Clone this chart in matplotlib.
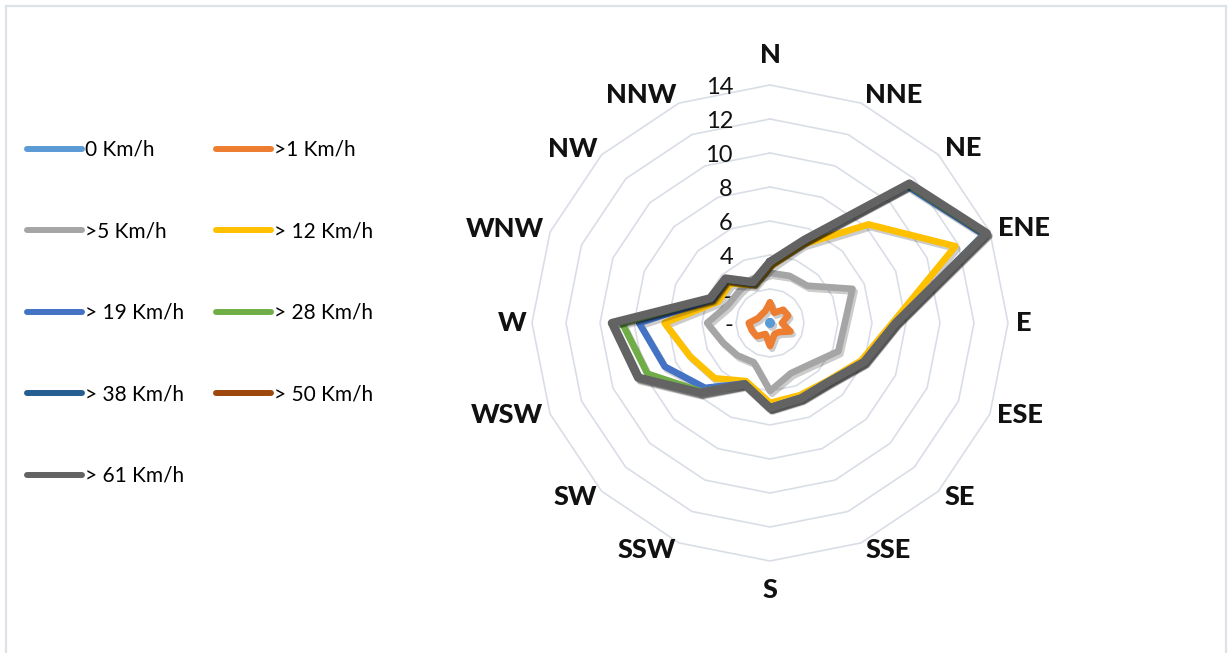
import numpy as np
import matplotlib.pyplot as plt
import matplotlib.transforms as mtransforms
from matplotlib import patheffects as pe
from matplotlib.lines import Line2D
from matplotlib.patches import Rectangle

plt.rcParams['font.family'] = ['Lato', 'DejaVu Sans']

W, H = 1228, 653

# wind directions, clockwise from north
directions = ['N', 'NNE', 'NE', 'ENE', 'E', 'ESE', 'SE', 'SSE',
              'S', 'SSW', 'SW', 'WSW', 'W', 'WNW', 'NW', 'NNW']

# cumulative frequency (%) per speed class
speed_0 = [0.1, 0.1, 0.1, 0.1, 0.1, 0.1, 0.1, 0.1,
           0.1, 0.1, 0.1, 0.1, 0.1, 0.1, 0.1, 0.1]
speed_1 = [1.2, 0.65, 1.1, 1.15, 0.7, 1.3, 0.75, 0.7,
           1.35, 0.7, 1.1, 1.15, 1.25, 0.75, 0.7, 0.75]
speed_5 = [2.95, 3.0, 3.1, 5.25, 4.4, 4.35, 3.4, 3.2,
           4.0, 2.5, 2.7, 3.0, 3.7, 2.7, 2.6, 2.8]
speed_12 = [3.3, 5.0, 8.2, 11.8, 7.2, 5.8, 4.8, 4.6,
            4.7, 3.7, 4.6, 5.1, 6.2, 3.3, 3.3, 2.4]
speed_19 = [3.55, 5.2, 11.4, 13.6, 7.35, 5.95, 4.85, 4.75,
            4.95, 3.85, 5.4, 6.7, 7.7, 3.65, 3.6, 2.5]
speed_28 = [3.6, 5.25, 11.5, 13.7, 7.4, 6.0, 4.9, 4.8,
            5.0, 3.9, 5.7, 7.8, 8.7, 3.75, 3.65, 2.55]
speed_38 = [3.6, 5.3, 11.6, 13.8, 7.4, 6.0, 4.9, 4.8,
            5.0, 3.9, 5.8, 8.35, 9.25, 3.8, 3.7, 2.6]
speed_50 = [3.6, 5.3, 11.6, 13.8, 7.4, 6.0, 4.9, 4.8,
            5.0, 3.9, 5.8, 8.4, 9.3, 3.8, 3.7, 2.6]
speed_61 = [3.6, 5.3, 11.6, 13.8, 7.4, 6.0, 4.9, 4.8,
            5.0, 3.9, 5.8, 8.4, 9.3, 3.8, 3.7, 2.6]

labels = ['0 Km/h', '>1 Km/h', '>5 Km/h', '> 12 Km/h', '> 19 Km/h',
          '> 28 Km/h', '> 38 Km/h', '> 50 Km/h', '> 61 Km/h']
colors = ['#5B9BD5', '#ED7D31', '#A5A5A5', '#FFC000', '#4472C4',
          '#70AD47', '#255E91', '#9E480E', '#636363']
series = [speed_0, speed_1, speed_5, speed_12, speed_19,
          speed_28, speed_38, speed_50, speed_61]

ring_values = [2, 4, 6, 8, 10, 12, 14]
tick_labels = ['-', '2', '4', '6', '8', '10', '12', '14']
# where each direction label sits: angle (deg) and radius (data units)
label_deg = [0, 28.5, 47.8, 69.5, 90, 110.2, 132.5, 152.5,
             180, 208.6, 228.3, 250.7, 270, 289.5, 311.5, 330.5]
label_r = [15.76, 15.26, 15.32, 15.95, 14.94, 15.67, 15.15, 15.05,
           15.7, 15.2, 15.37, 16.39, 15.18, 16.54, 15.46, 15.41]

fig = plt.figure(figsize=(W / 100, H / 100), dpi=100)
fig.patch.set_facecolor('white')
fig.add_artist(Rectangle((6 / W, -0.05), (1226 - 6) / W, 1 - 6 / H + 0.05,
                         transform=fig.transFigure, fill=False,
                         edgecolor='#dde1e8', lw=1.6))

cx, cy, R = 770, 323, 238
ax = fig.add_axes([(cx - R) / W, (H - cy - R) / H, 2 * R / W, 2 * R / H],
                  projection='polar')
ax.set_theta_zero_location('N')
ax.set_theta_direction(-1)
ax.set_ylim(0, 14)
ax.grid(False)
ax.spines['polar'].set_visible(False)
ax.set_xticks([])
ax.set_yticks([])
ax.patch.set_visible(False)

theta = np.deg2rad(np.arange(len(directions)) * 22.5)
closed = np.append(theta, theta[0])

# polygon gridlines
for r in ring_values:
    ax.plot(closed, [r] * len(closed), color='#d9dee6', lw=1.2,
            zorder=1, clip_on=False)

# radial value labels on the north spoke
lab_tr = mtransforms.offset_copy(ax.transData, fig=fig, x=-37, y=-2, units='dots')
for v, t in zip([0] + ring_values, tick_labels):
    ax.text(0, v, t, transform=lab_tr, ha='right', va='center',
            fontsize=17, color='#111111')

for deg, d, r in zip(label_deg, directions, label_r):
    ax.text(np.deg2rad(deg), r, d, ha='center', va='center', fontsize=19.5,
            fontweight='black', color='#111111')

shadow = [pe.SimpleLineShadow(offset=(1.5, -2), shadow_color='k', alpha=0.2),
          pe.Normal()]
for i, (vals, col) in enumerate(zip(series, colors)):
    lw = 6.0 if i == len(series) - 1 else 4.8
    ax.plot(closed, vals + vals[:1], color=col, lw=lw,
            solid_joinstyle='round', solid_capstyle='round',
            path_effects=shadow, clip_on=False, zorder=3 + i)

# legend, filled row by row in two columns
handles = [Line2D([], [], color=c, lw=4.3, solid_capstyle='round') for c in colors]
order = [0, 2, 4, 6, 8, 1, 3, 5, 7]
fig.legend([handles[i] for i in order], [labels[i] for i in order],
           loc='upper left', bbox_to_anchor=(27 / W, 1 - 140 / H),
           ncol=2, frameon=False, fontsize=15, handlelength=2.65,
           handletextpad=0.15, columnspacing=1.5, labelspacing=2.95,
           borderaxespad=0, borderpad=0)

fig.savefig('out.png', dpi=100)
